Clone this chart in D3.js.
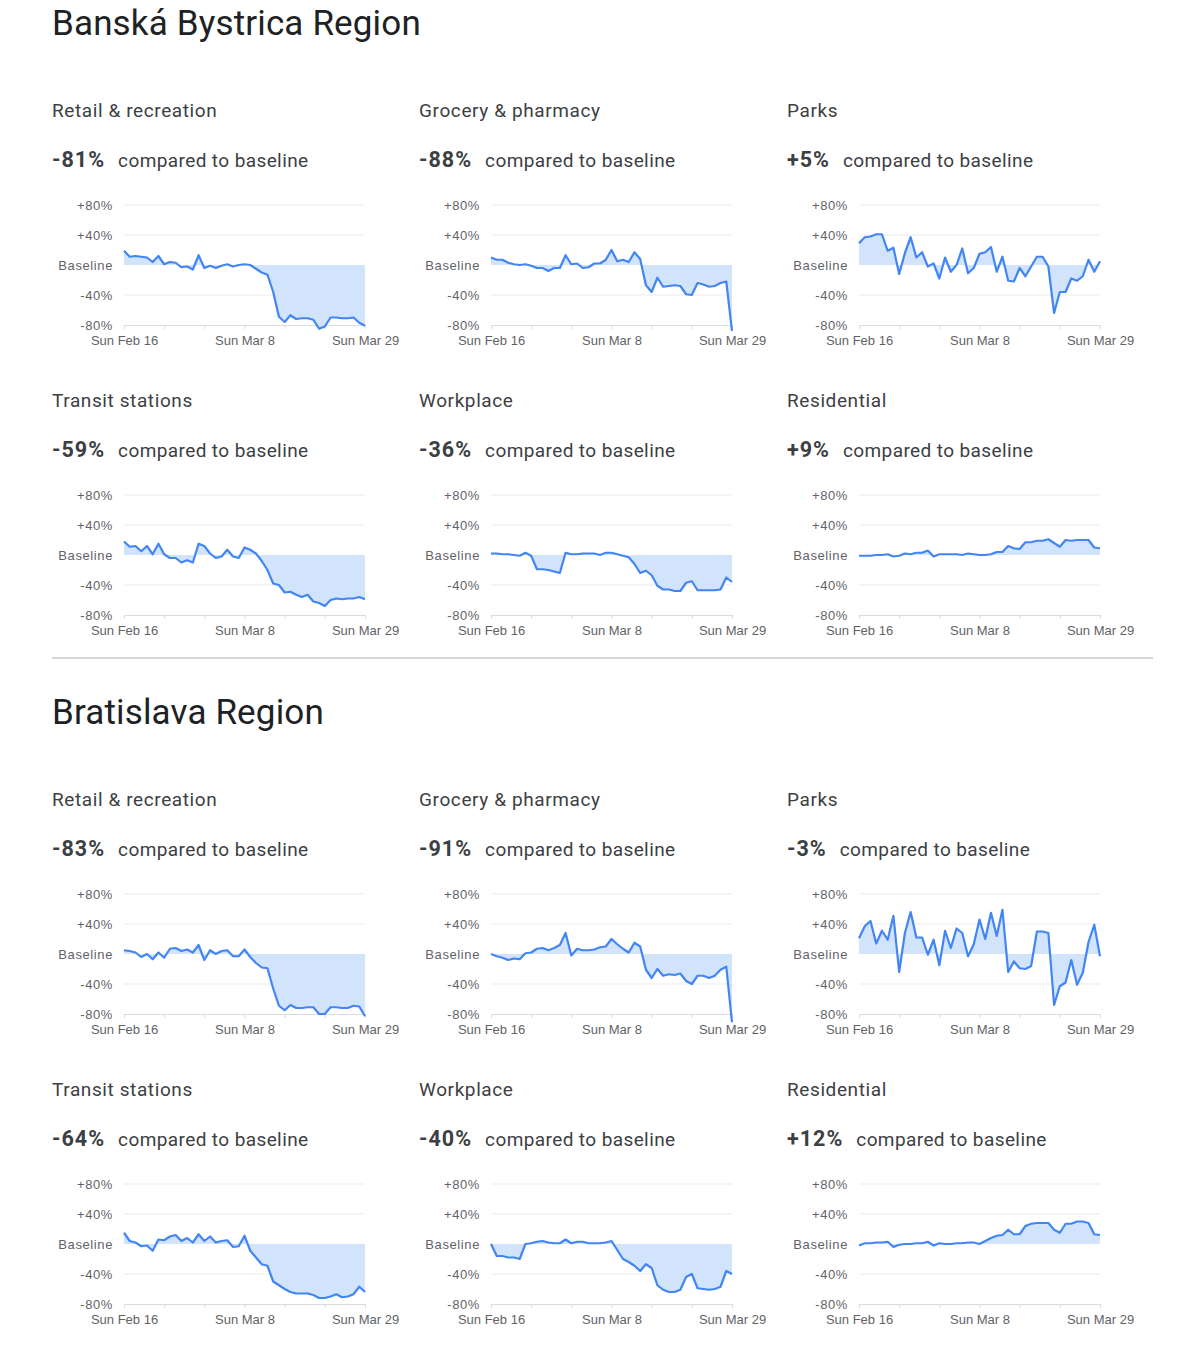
<!DOCTYPE html>
<html>
<head>
<meta charset="utf-8">
<script src="https://cdn.jsdelivr.net/npm/d3@7"></script>
<style>
  body { margin: 0; background: #fff; }
  svg { display: block; }
</style>
</head>
<body>
<svg id="chart"></svg>
<script>
// Data (percent change vs baseline, one value per day, Feb 16 - Mar 29)
const regions = ["Banská Bystrica Region", "Bratislava Region"];
const categories = ["Retail & recreation", "Grocery & pharmacy", "Parks", "Transit stations", "Workplace", "Residential"];

const bbRetail = [19, 11, 12, 11, 10, 4, 12, 1, 4, 3, -3, -2, -6, 13, -4, -1, -4, -1, 1, -2, 0, 1, 0, -5, -10, -13, -36, -69, -76, -67, -72, -71, -71, -73, -85, -82, -70, -70, -71, -71, -70, -77, -81];
const bbGrocery = [10, 7, 7, 3, 1, 0, 1, -1, -4, -4, -8, -4, -4, 13, 1, 2, -4, -3, 2, 2, 7, 20, 5, 7, 4, 17, 8, -27, -36, -17, -29, -28, -27, -28, -39, -40, -24, -26, -29, -28, -24, -22, -88];
const bbParks = [29, 37, 38, 41, 41, 19, 23, -12, 16, 37, 10, 17, -2, 2, -18, 10, -9, 0, 22, -11, -4, 15, 17, 24, -9, 11, -21, -22, -4, -15, -2, 11, 11, -2, -64, -36, -36, -18, -21, -15, 7, -9, 5];
const bbTransit = [18, 11, 12, 5, 12, 1, 15, 1, -4, -4, -10, -7, -10, 15, 12, 2, -4, -2, 7, -2, -4, 10, 7, 2, -8, -20, -38, -40, -50, -49, -53, -56, -53, -62, -64, -68, -60, -58, -59, -58, -58, -56, -59];
const bbWorkplace = [2, 2, 1, 1, 0, -1, 3, -1, -19, -19, -20, -22, -24, 3, 1, 1, 2, 2, 2, 0, 3, 3, 1, -1, -3, -12, -24, -21, -27, -41, -46, -46, -48, -48, -37, -35, -47, -47, -47, -47, -46, -30, -36];
const bbResidential = [-1, -1, -1, 0, 0, 1, -2, -1, 2, 1, 3, 3, 6, -2, 1, 1, 1, 1, 0, 2, 1, 0, 0, 1, 4, 4, 12, 9, 8, 17, 17, 19, 19, 21, 16, 11, 20, 19, 20, 20, 20, 10, 9];

const baRetail = [5, 4, 2, -4, 0, -7, 2, -5, 7, 8, 4, 6, 2, 12, -8, 5, 0, 4, 5, -3, -3, 6, -4, -12, -18, -19, -46, -69, -75, -68, -72, -72, -71, -71, -80, -80, -71, -71, -72, -72, -69, -70, -83];
const baGrocery = [0, -3, -5, -8, -6, -7, 1, 2, 7, 8, 5, 8, 12, 28, -2, 7, 5, 5, 6, 9, 10, 20, 13, 7, 2, 15, 10, -21, -32, -20, -29, -27, -28, -26, -36, -40, -29, -29, -32, -29, -21, -17, -91];
const baParks = [21, 37, 44, 14, 31, 19, 51, -24, 28, 56, 22, 22, -1, 19, -15, 31, 8, 34, 28, -3, 13, 46, 20, 55, 24, 59, -24, -10, -19, -20, -16, 30, 30, 28, -68, -43, -38, -8, -41, -25, 16, 39, -3];
const baTransit = [15, 4, 2, -3, -2, -9, 6, 5, 10, 12, 4, 8, 2, 13, 4, 10, 2, 4, 5, -4, -3, 11, -9, -18, -27, -29, -50, -55, -60, -64, -66, -66, -66, -68, -72, -72, -70, -67, -71, -70, -67, -57, -64];
const baWorkplace = [0, -16, -16, -18, -18, -20, 0, 1, 3, 4, 2, 1, 1, 6, 1, 3, 3, 1, 1, 1, 2, 4, -8, -20, -24, -29, -36, -27, -32, -55, -61, -64, -64, -61, -44, -40, -59, -60, -61, -60, -57, -36, -40];
const baResidential = [-2, 1, 1, 2, 2, 3, -4, -1, 0, 0, 1, 1, 3, -2, 1, 0, 0, 1, 1, 2, 2, 0, 4, 8, 11, 12, 19, 13, 13, 24, 27, 28, 28, 28, 19, 15, 27, 27, 30, 30, 28, 13, 12];

const bbHeadlines = [-81, -88, 5, -59, -36, 9];
const baHeadlines = [-83, -91, -3, -64, -40, 12];

const yTicks = [80, 40, 0, -40, -80];
const xTickLabels = ["Sun Feb 16", "Sun Mar 8", "Sun Mar 29"];

const regionSeries = [
  [bbRetail, bbGrocery, bbParks, bbTransit, bbWorkplace, bbResidential],
  [baRetail, baGrocery, baParks, baTransit, baWorkplace, baResidential]
];
const regionHeadlines = [bbHeadlines, baHeadlines];

// dates for each daily value
const startDate = new Date(2020, 1, 16);
const endDate = new Date(2020, 2, 29);
const dates = d3.timeDay.range(startDate, d3.timeDay.offset(endDate, 1));

const W = 1200, H = 1354;
const regionHeight = 689;
const colX = [52, 419, 787];
const rowY = [110, 400];
const plotW = 241, plotH = 120;

const svg = d3.select("#chart").attr("width", W).attr("height", H);

const x = d3.scaleTime().domain([startDate, endDate]).range([0, plotW]);
const y = d3.scaleLinear().domain([-80, 80]).range([plotH, 0]);

const fmtTick = d3.timeFormat("Sun %b %-d");
const fmtPct = v => (v > 0 ? "+" : v < 0 ? "-" : "") + Math.abs(v) + "%";

const area = d3.area()
  .x(d => x(d.date))
  .y0(y(0))
  .y1(d => y(d.value));

const line = d3.line()
  .x(d => x(d.date))
  .y(d => y(d.value));

regions.forEach((regionName, r) => {
  const top = r * regionHeight;
  const g = svg.append("g").attr("transform", `translate(0,${top})`);

  g.append("text")
    .attr("x", 52)
    .attr("y", 35)
    .style("font-family", "Roboto, 'Open Sans', sans-serif")
    .style("font-size", "35px")
    .style("letter-spacing", "0.15px")
    .style("fill", "#202124")
    .text(regionName);

  // divider under the first region
  if (r < regions.length - 1) {
    g.append("line")
      .attr("x1", 52).attr("x2", 1153)
      .attr("y1", 658).attr("y2", 658)
      .style("stroke", "#c8c8c8")
      .style("stroke-width", 1.5);
  }

  categories.forEach((cat, i) => {
    const cx = colX[i % 3];
    const cy = rowY[Math.floor(i / 3)];
    const values = regionSeries[r][i].map((v, k) => ({ date: dates[k], value: v }));
    const headline = regionHeadlines[r][i];

    const cg = g.append("g").attr("transform", `translate(${cx},${cy})`);

    cg.append("text")
      .attr("x", 0).attr("y", 6.5)
      .style("font-family", "Roboto, sans-serif")
      .style("font-size", "19px")
      .style("letter-spacing", "0.6px")
      .style("fill", "#3c4043")
      .text(cat);

    const head = cg.append("text")
      .attr("x", 0).attr("y", 56.5)
      .style("font-family", "Roboto, sans-serif")
      .style("fill", "#3c4043");
    head.append("tspan")
      .style("font-size", "21.5px")
      .style("font-weight", "bold")
      .style("letter-spacing", "1px")
      .text(fmtPct(headline));
    head.append("tspan")
      .attr("dx", 13)
      .style("font-size", "19px")
      .style("letter-spacing", "0.4px")
      .text("compared to baseline");

    const pg = cg.append("g").attr("transform", "translate(72,95)");

    // gridlines
    pg.selectAll(".grid")
      .data(yTicks.filter(t => t !== 0 && t !== -80))
      .enter().append("line")
      .attr("x1", 0).attr("x2", plotW)
      .attr("y1", d => y(d)).attr("y2", d => y(d))
      .style("stroke", "#ebebeb")
      .style("stroke-width", 1);

    // y labels
    pg.selectAll(".ylab")
      .data(yTicks)
      .enter().append("text")
      .attr("x", -11)
      .attr("y", d => y(d))
      .attr("dy", "0.35em")
      .attr("text-anchor", "end")
      .style("font-family", "'Liberation Sans', Arial, sans-serif")
      .style("font-size", "13px")
      .style("letter-spacing", "0.6px")
      .style("fill", "#5f6368")
      .text(d => d === 0 ? "Baseline" : fmtPct(d));

    pg.append("path")
      .datum(values)
      .attr("d", area)
      .style("fill", "#d2e3fc");

    // x axis along -80%
    const xAxis = d3.axisBottom(x)
      .tickValues(d3.timeWeek.range(startDate, d3.timeDay.offset(endDate, 1)))
      .tickSize(4)
      .tickFormat(d => {
        const s = fmtTick(d);
        return xTickLabels.includes(s) ? s : "";
      });

    const ax = pg.append("g")
      .attr("transform", `translate(0,${plotH})`)
      .call(xAxis);
    ax.select(".domain").style("stroke", "#dadce0");
    ax.selectAll(".tick line").style("stroke", "#dadce0");
    ax.selectAll(".tick text")
      .attr("y", 11)
      .style("font-family", "'Liberation Sans', Arial, sans-serif")
      .style("font-size", "13px")
      .style("fill", "#5f6368");

    pg.append("path")
      .datum(values)
      .attr("d", line)
      .style("fill", "none")
      .style("stroke", "#4285f4")
      .style("stroke-width", 2.2)
      .style("stroke-linejoin", "round");
  });
});
</script>
</body>
</html>
